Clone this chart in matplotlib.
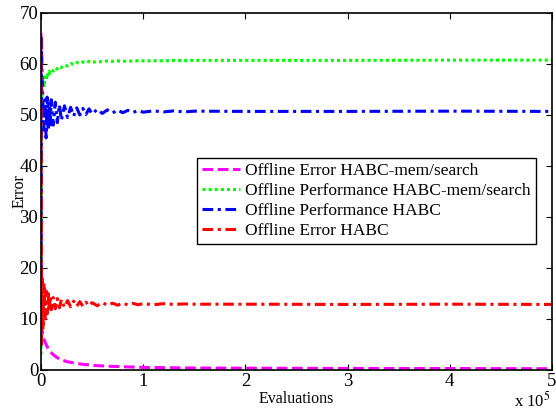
import matplotlib.pyplot as plt
from matplotlib.ticker import FuncFormatter

plt.rcParams['font.family'] = ['Liberation Serif', 'DejaVu Serif']
plt.rcParams['mathtext.fontset'] = 'stix'

# evaluations
evals = [0, 500, 1000, 2000, 3000, 4000, 5000, 6000, 7000, 8000, 9000, 10000,
         12000, 14000, 16000, 18000, 20000, 23000, 26000, 29000, 32000, 35000,
         38000, 41000, 44000, 47000, 50000, 55000, 60000, 65000, 70000, 75000,
         80000, 85000, 90000, 95000, 100000, 110000, 120000, 130000, 140000,
         150000, 200000, 300000, 400000, 500000]

err_mem = [66, 17, 8, 6.5, 6, 5.5, 5, 4.6, 4.2, 3.9, 3.6, 3.4,
           3.0, 2.7, 2.4, 2.2, 2.0, 1.8, 1.6, 1.5, 1.4, 1.3,
           1.2, 1.1, 1.05, 1.0, 0.9, 0.85, 0.8, 0.75, 0.7, 0.68,
           0.65, 0.6, 0.58, 0.55, 0.5, 0.48, 0.45, 0.43, 0.4,
           0.38, 0.35, 0.3, 0.28, 0.25]

perf_mem = [3, 52, 54, 56.5, 55.5, 57.5, 56.8, 58.2, 57.8, 58.6, 58.2, 58.8,
            58.6, 59.2, 59.0, 59.5, 59.3, 59.8, 59.6, 60.1, 59.9, 60.3,
            60.1, 60.4, 60.2, 60.5, 60.3, 60.5, 60.4, 60.6, 60.5, 60.6,
            60.5, 60.6, 60.55, 60.65, 60.6, 60.65, 60.6, 60.7, 60.65,
            60.7, 60.7, 60.7, 60.75, 60.75]

perf_habc = [5, 65, 58, 52, 47, 53, 45.5, 53.5, 47, 52.5, 47.5, 53,
             48, 52.5, 48.5, 52, 49, 51.8, 49.5, 51.5, 49.8, 51.4,
             50, 51.3, 50.1, 51.2, 50.2, 51.1, 50.3, 51, 50.4, 50.95,
             50.45, 50.9, 50.5, 50.85, 50.55, 50.8, 50.6, 50.8, 50.6,
             50.75, 50.7, 50.7, 50.75, 50.7]

err_habc = [65, 5, 18, 8, 17, 10, 15.5, 11, 15, 11.5, 14.5, 11.8,
            14.2, 12, 14, 12.2, 13.8, 12.3, 13.6, 12.4, 13.5, 12.5,
            13.4, 12.5, 13.3, 12.6, 13.2, 12.6, 13.2, 12.7, 13.1, 12.7,
            13.1, 12.75, 13.05, 12.8, 13.0, 12.8, 13.0, 12.85, 12.95,
            12.9, 12.9, 12.85, 12.9, 12.85]

fig = plt.figure(figsize=(5.56, 4.12), dpi=100)
ax = fig.add_axes([0.0737, 0.102, 0.919, 0.8665])

lw = 2.2
ax.plot(evals, err_mem, color='#ff00ff', lw=lw, dashes=(3.5, 1.5),
        label='Offline Error HABC-mem/search')
ax.plot(evals, perf_mem, color='#00ff00', lw=lw, dashes=(1, 1),
        label='Offline Performance HABC-mem/search')
ax.plot(evals, perf_habc, color='#0000ff', lw=lw, dashes=(3.5, 1.5, 1, 1.5),
        label='Offline Performance HABC')
ax.plot(evals, err_habc, color='#ff0000', lw=lw, dashes=(3.5, 1.5, 1, 1.5),
        label='Offline Error HABC')

ax.set_xlim(0, 500000)
ax.set_ylim(0, 70)
ax.set_xticks([0, 100000, 200000, 300000, 400000, 500000])
ax.xaxis.set_major_formatter(FuncFormatter(lambda v, p: f"{v/1e5:g}"))
ax.tick_params(direction='in', top=True, right=True, labelsize=13.5,
               length=4, pad=2)
for s in ax.spines.values():
    s.set_linewidth(1.2)
ax.set_xlabel('Evaluations', fontsize=11.5, labelpad=1)
ax.set_ylabel('Error', fontsize=11.5, labelpad=-6)
fig.text(0.925, 0.002, r'x 10$^5$', fontsize=12, ha='left', va='bottom')

leg = ax.legend(loc='upper right', bbox_to_anchor=(0.986, 0.619), fontsize=12.5,
                fancybox=False, edgecolor='black', framealpha=1,
                handlelength=2.2, handletextpad=0.3, labelspacing=0.22,
                borderpad=0.3)
leg.get_frame().set_linewidth(1.0)

fig.savefig('out.png', dpi=100)
